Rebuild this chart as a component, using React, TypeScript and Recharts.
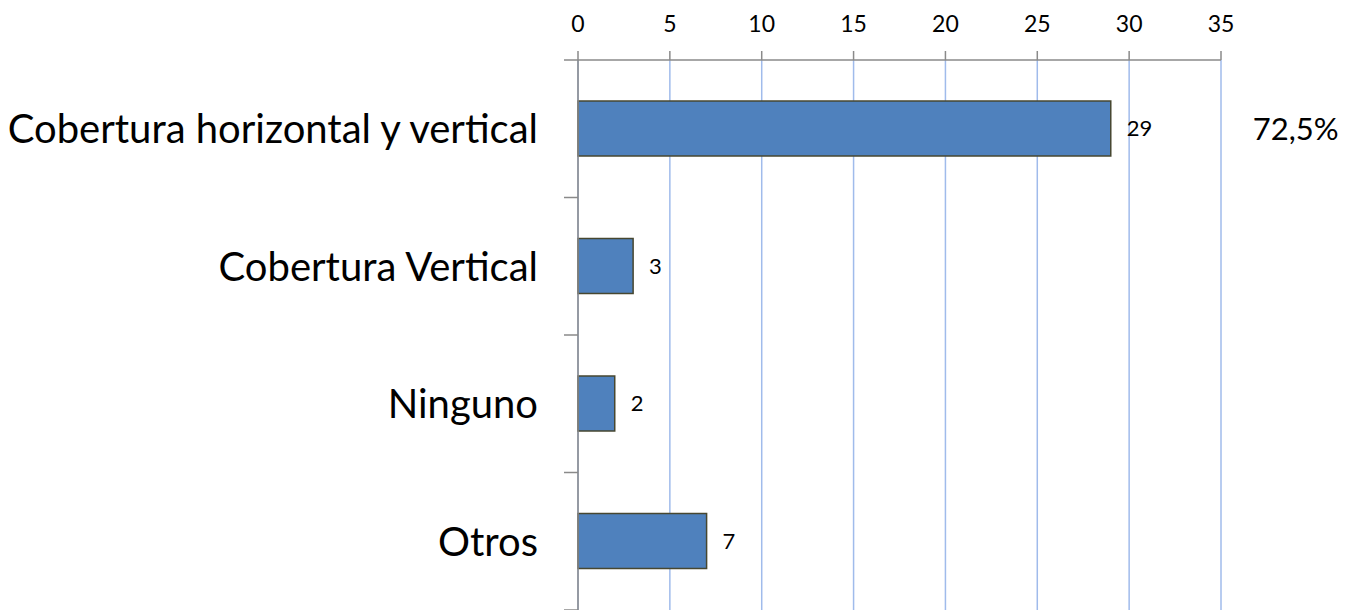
import React from 'react';
import { BarChart, Bar, XAxis, YAxis, CartesianGrid, LabelList } from 'recharts';

const categories = ['Cobertura horizontal y vertical', 'Cobertura Vertical', 'Ninguno', 'Otros'];
const counts = [29, 3, 2, 7];
const percentLabels = ['72,5%', '', '', ''];
const xTicks = [0, 5, 10, 15, 20, 25, 30, 35];

const data = categories.map((c, i) => ({ name: c, value: counts[i], pct: percentLabels[i] }));

const FONT = "Lato, 'Open Sans', sans-serif";
const AXIS_GRAY = '#8a8a8a';

function CategoryTick(props: any) {
  const { x, y, payload, index, visibleTicksCount } = props;
  const half = payload && typeof payload.offset === 'number' ? payload.offset : 0;
  const axisX = x + 40;
  const isLast = index === (visibleTicksCount ?? 4) - 1;
  return (
    <g>
      <line x1={axisX - 14} x2={axisX} y1={y - half} y2={y - half} stroke={AXIS_GRAY} strokeWidth={1.5} />
      {isLast ? <line x1={axisX - 14} x2={axisX} y1={y + half} y2={y + half} stroke={AXIS_GRAY} strokeWidth={1.5} /> : null}
      <text x={x} y={y} dy="0.36em" textAnchor="end" fontFamily={FONT} fontSize={40} fill="#000">
        {payload.value}
      </text>
    </g>
  );
}

function ValueTick(props: any) {
  const { x, y, payload } = props;
  return (
    <text x={x} y={y} textAnchor="middle" fontFamily={FONT} fontSize={23} fill="#000">
      {payload.value}
    </text>
  );
}

export default function App() {
  return (
    <div style={{ position: 'absolute', left: 0, top: 0, width: 1350, height: 610, overflow: 'hidden', background: '#fff' }}>
      <BarChart
        width={1350}
        height={620}
        data={data}
        layout="vertical"
        margin={{ top: 0, right: 129, bottom: 10, left: 0 }}
        barCategoryGap="40%"
      >
        <CartesianGrid horizontal={false} vertical={true} stroke="#a0bbeb" strokeWidth={1.5} />
        <XAxis
          type="number"
          orientation="top"
          domain={[0, 35]}
          ticks={xTicks}
          height={60}
          axisLine={{ stroke: AXIS_GRAY, strokeWidth: 1.5 }}
          tickLine={{ stroke: AXIS_GRAY, strokeWidth: 1.5 }}
          tickSize={9}
          tickMargin={19}
          tick={<ValueTick />}
          interval={0}
        />
        <YAxis
          type="category"
          dataKey="name"
          width={578}
          axisLine={{ stroke: AXIS_GRAY, strokeWidth: 1.5 }}
          tickLine={false}
          tickSize={10}
          tickMargin={30}
          tick={<CategoryTick />}
          interval={0}
        />
        <Bar dataKey="value" fill="#4f81bd" stroke="#474730" strokeWidth={1.5} barSize={55} isAnimationActive={false}>
          <LabelList dataKey="value" position="right" offset={16} fontFamily={FONT} fontSize={22} fill="#000" />
          <LabelList dataKey="pct" position="right" offset={142} fontFamily={FONT} fontSize={31} fill="#000" />
        </Bar>
      </BarChart>
    </div>
  );
}
